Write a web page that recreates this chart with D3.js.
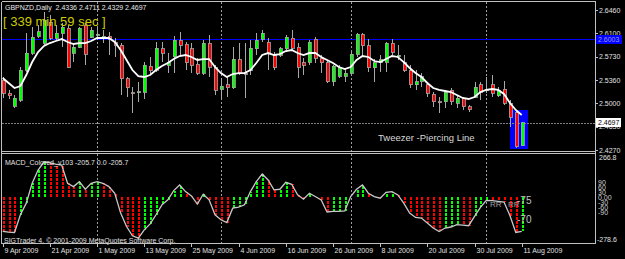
<!DOCTYPE html>
<html>
<head>
<meta charset="utf-8">
<script src="https://cdn.jsdelivr.net/npm/d3@7"></script>
<style>
  body { margin: 0; background: #000; }
  text { font-family: "Liberation Sans", Arial, sans-serif; }
</style>
</head>
<body>
<script>
// Width and Height
const w = 625;
const h = 259;

// Daily GBPNZD candles, bar 0 = 9 Apr 2009 ... bar 88 = 11 Aug 2009
const opens = [2.5365, 2.5161, 2.4958, 2.5052, 2.5521, 2.5787, 2.6053, 2.5943, 2.6272, 2.6022,
  2.6100, 2.6178, 2.5787, 2.5881, 2.6225, 2.6037, 2.6069, 2.6037, 2.6053, 2.5959,
  2.5912, 2.5381, 2.5169, 2.5177, 2.5177, 2.5584, 2.5521, 2.5850, 2.5599, 2.5725,
  2.5990, 2.5928, 2.5850, 2.5615, 2.5474, 2.5943, 2.5568, 2.5224, 2.5287, 2.5240,
  2.5693, 2.5474, 2.5506, 2.5850, 2.6006, 2.5959, 2.5756, 2.5756, 2.5850, 2.6022,
  2.5881, 2.5631, 2.5646, 2.6006, 2.5709, 2.5631, 2.5334, 2.5427, 2.5427, 2.5474,
  2.5771, 2.6084, 2.5897, 2.5553, 2.5631, 2.5646, 2.5943, 2.5725, 2.5646, 2.5506,
  2.5287, 2.5334, 2.5287, 2.5146, 2.5021, 2.5021, 2.5208, 2.5005, 2.5083, 2.4943,
  2.5099, 2.5287, 2.5208, 2.5287, 2.5115, 2.5224, 2.5005, 2.4864, 2.4336];
const highs = [2.5412, 2.5208, 2.5130, 2.5568, 2.6100, 2.6194, 2.6225, 2.6428, 2.6381, 2.6225,
  2.6256, 2.6225, 2.5943, 2.6194, 2.6256, 2.6194, 2.6178, 2.6147, 2.6116, 2.6022,
  2.5943, 2.5412, 2.5255, 2.5334, 2.5646, 2.5725, 2.5959, 2.5959, 2.5787, 2.6053,
  2.6116, 2.5959, 2.5943, 2.5709, 2.5990, 2.6069, 2.5599, 2.5396, 2.5412, 2.5881,
  2.5943, 2.5943, 2.5990, 2.6100, 2.6147, 2.6022, 2.5803, 2.5881, 2.6069, 2.6147,
  2.5943, 2.5709, 2.5990, 2.6037, 2.5756, 2.5678, 2.5599, 2.5599, 2.5553, 2.5803,
  2.6100, 2.6100, 2.6006, 2.5693, 2.5756, 2.5959, 2.6006, 2.5912, 2.5756, 2.5599,
  2.5521, 2.5474, 2.5318, 2.5177, 2.5099, 2.5208, 2.5240, 2.5130, 2.5099, 2.4974,
  2.5334, 2.5334, 2.5412, 2.5443, 2.5255, 2.5349, 2.5052, 2.4896, 2.4711];
const lows = [2.5083, 2.5068, 2.4927, 2.5021, 2.5490, 2.5756, 2.6022, 2.5912, 2.5990, 2.5990,
  2.5881, 2.5553, 2.5646, 2.5865, 2.5599, 2.6022, 2.5990, 2.5943, 2.5756, 2.5725,
  2.5130, 2.5099, 2.4849, 2.5021, 2.5068, 2.5443, 2.5490, 2.5646, 2.5474, 2.5474,
  2.5756, 2.5521, 2.5474, 2.5443, 2.5443, 2.5412, 2.5130, 2.5052, 2.5099, 2.5224,
  2.5443, 2.5083, 2.5443, 2.5756, 2.5959, 2.5521, 2.5521, 2.5725, 2.5803, 2.5834,
  2.5396, 2.5443, 2.5599, 2.5631, 2.5474, 2.5318, 2.5271, 2.5396, 2.5334, 2.5443,
  2.5725, 2.5740, 2.5490, 2.5334, 2.5490, 2.5490, 2.5756, 2.5678, 2.5490, 2.5240,
  2.5208, 2.5255, 2.5099, 2.4943, 2.4849, 2.4927, 2.4974, 2.4927, 2.4896, 2.4864,
  2.5083, 2.5052, 2.5161, 2.5099, 2.5099, 2.4974, 2.4630, 2.4301, 2.4329];
const closes = [2.5161, 2.5115, 2.5083, 2.5521, 2.5787, 2.6037, 2.6116, 2.6303, 2.6022, 2.6100,
  2.6194, 2.5568, 2.5881, 2.6178, 2.5771, 2.6147, 2.6084, 2.6053, 2.6006, 2.5912,
  2.5381, 2.5240, 2.5161, 2.5185, 2.5599, 2.5506, 2.5865, 2.5787, 2.5646, 2.5990,
  2.5912, 2.5631, 2.5599, 2.5474, 2.5943, 2.5568, 2.5208, 2.5271, 2.5240, 2.5693,
  2.5474, 2.5466, 2.5865, 2.5990, 2.6100, 2.5787, 2.5553, 2.5850, 2.6037, 2.5865,
  2.5568, 2.5599, 2.5959, 2.5709, 2.5631, 2.5334, 2.5584, 2.5553, 2.5474, 2.5771,
  2.6084, 2.5897, 2.5553, 2.5631, 2.5678, 2.5943, 2.5803, 2.5756, 2.5506, 2.5287,
  2.5334, 2.5412, 2.5161, 2.5021, 2.5013, 2.5177, 2.5021, 2.5083, 2.4943, 2.4896,
  2.5255, 2.5177, 2.5216, 2.5161, 2.5193, 2.5005, 2.4786, 2.4317, 2.4697];

// moving average drawn over the candles
const maValues = [2.5396, 2.5318, 2.5240, 2.5271, 2.5443, 2.5646, 2.5803, 2.5897, 2.5943, 2.5975,
  2.6006, 2.5959, 2.5928, 2.5943, 2.5943, 2.5975, 2.6022, 2.6022, 2.6022, 2.5959,
  2.5834, 2.5678, 2.5521, 2.5427, 2.5412, 2.5443, 2.5521, 2.5584, 2.5631, 2.5693,
  2.5740, 2.5756, 2.5725, 2.5678, 2.5693, 2.5693, 2.5568, 2.5474, 2.5412, 2.5459,
  2.5474, 2.5474, 2.5521, 2.5631, 2.5756, 2.5787, 2.5756, 2.5771, 2.5818, 2.5834,
  2.5787, 2.5756, 2.5787, 2.5787, 2.5725, 2.5678, 2.5631, 2.5568, 2.5537, 2.5568,
  2.5678, 2.5740, 2.5725, 2.5662, 2.5646, 2.5693, 2.5740, 2.5725, 2.5646, 2.5553,
  2.5474, 2.5412, 2.5318, 2.5240, 2.5209, 2.5193, 2.5177, 2.5130, 2.5084, 2.5068,
  2.5099, 2.5177, 2.5209, 2.5224, 2.5209, 2.5146, 2.5005, 2.4896, 2.4818];

// MACD_Colored values
const macdValues = [-205, -210, -212, -105, -35, 85, 165, 215, 209, 201,
  195, 85, 65, 95, 49, 85, 95, 85, 65, 25,
  -95, -176, -232, -246, -196, -160, -105, -45, -15, 41,
  75, 35, 9, -41, 19, -15, -105, -135, -152, -65,
  -59, -45, 35, 95, 141, 105, 45, 49, 91, 79,
  15, -11, 25, 5, -15, -88, -85, -84, -82, 5,
  49, 75, 25, 5, -5, 30, 35, 15, -35, -95,
  -121, -125, -155, -185, -206, -185, -179, -165, -167, -171,
  -115, -60, -18, -20, -24, -28, -110, -212, -205.7];

const dateLabels = ["9 Apr 2009", "21 Apr 2009", "1 May 2009", "13 May 2009", "25 May 2009", "4 Jun 2009",
  "16 Jun 2009", "26 Jun 2009", "8 Jul 2009", "20 Jul 2009", "30 Jul 2009", "11 Aug 2009"];
const dateBars = [0, 8, 16, 24, 32, 40, 48, 56, 64, 72, 80, 88];
const monthBars = [16, 37, 59, 82];

const priceTicks = [2.6460, 2.6100, 2.5730, 2.5360, 2.5000, 2.4630, 2.4270];
const macdRange = [-278.6, 266.8];
const macdLevels = [90, 60, 30, 0, -30, -60, -90];

const blueLevel = 2.6003;
// tweezer box: bars 86..89, price span
const boxBars = [86, 89];
const boxPrices = [2.4286, 2.4896];

const last = opens.length - 1;

// Create SVG
const svg = d3.select("body")
  .append("svg")
  .attr("width", w)
  .attr("height", h)
  .style("background", "#000")
  .attr("shape-rendering", "crispEdges");

const x = d3.scaleLinear().domain([0, last]).range([2.7, 521.7]);
const y = d3.scaleLinear().domain([2.4270, 2.6460]).range([150, 10]);
const ym = d3.scaleLinear().domain(macdRange).range([243.5, 153.2]);

const grey = "#c0c0c0";

// tweezer box (background object)
svg.append("rect")
  .attr("x", x(boxBars[0]))
  .attr("y", y(boxPrices[1]))
  .attr("width", x(boxBars[1]) - x(boxBars[0]))
  .attr("height", y(boxPrices[0]) - y(boxPrices[1]))
  .attr("fill", "#0000ff");

// month separators
svg.selectAll("line.sep")
  .data(monthBars)
  .enter()
  .append("line")
  .attr("x1", d => Math.round(x(d)) + 0.5)
  .attr("x2", d => Math.round(x(d)) + 0.5)
  .attr("y1", 2)
  .attr("y2", 243)
  .attr("stroke", "#a0a0a0")
  .attr("stroke-dasharray", "2,2");

// blue horizontal line
svg.append("line")
  .attr("x1", 2).attr("x2", 595)
  .attr("y1", Math.round(y(blueLevel)) + 0.5)
  .attr("y2", Math.round(y(blueLevel)) + 0.5)
  .attr("stroke", "#0000ff");

// bid line
svg.append("line")
  .attr("x1", 2).attr("x2", 595)
  .attr("y1", Math.round(y(closes[last])) + 0.5)
  .attr("y2", Math.round(y(closes[last])) + 0.5)
  .attr("stroke", "#808080")
  .attr("stroke-dasharray", "2,1");

// candles
const candles = svg.append("g");
opens.forEach(function(o, i) {
  let c = closes[i];
  let cx = Math.round(x(i)) + 0.5;
  candles.append("line")
    .attr("x1", cx).attr("x2", cx)
    .attr("y1", y(highs[i])).attr("y2", y(lows[i]))
    .attr("stroke", "#a8a8a8");
  let top = y(Math.max(o, c));
  let bh = Math.max(1, Math.abs(y(o) - y(c)));
  candles.append("rect")
    .attr("x", cx - 1.5)
    .attr("y", top)
    .attr("width", 3)
    .attr("height", bh)
    .attr("fill", c >= o ? "#00ff00" : "#ff0000")
    .attr("stroke", "#a8a8a8")
    .attr("stroke-width", 0.8);
});

// moving average
const maLine = d3.line()
  .x((d, i) => x(i))
  .y(d => y(d));

svg.append("path")
  .datum(maValues)
  .attr("d", maLine)
  .attr("fill", "none")
  .attr("stroke", "#ffffff")
  .attr("stroke-width", 1.8)
  .attr("shape-rendering", "auto");

// MACD histogram, coloured by direction
svg.selectAll("line.hist")
  .data(macdValues)
  .enter()
  .append("line")
  .attr("x1", (d, i) => Math.round(x(i)) + 1)
  .attr("x2", (d, i) => Math.round(x(i)) + 1)
  .attr("y1", ym(0))
  .attr("y2", d => ym(d))
  .attr("stroke", (d, i) => (i > 0 && d > macdValues[i - 1]) ? "#00ff00" : "#ff0000")
  .attr("stroke-width", 2)
  .attr("stroke-dasharray", "3,1");

const macdLine = d3.line()
  .x((d, i) => x(i))
  .y(d => ym(d));

svg.append("path")
  .datum(macdValues)
  .attr("d", macdLine)
  .attr("fill", "none")
  .attr("stroke", "#c8c8c8")
  .attr("stroke-width", 1.3)
  .attr("shape-rendering", "auto");

// frames
const frame = [[1.5, 1.5, 595.5, 1.5], [1.5, 151.5, 595.5, 151.5], [1.5, 153.5, 595.5, 153.5],
  [1.5, 243.5, 595.5, 243.5], [1.5, 1.5, 1.5, 243.5], [595.5, 1.5, 595.5, 243.5]];
svg.selectAll("line.frame")
  .data(frame)
  .enter()
  .append("line")
  .attr("x1", d => d[0]).attr("y1", d => d[1])
  .attr("x2", d => d[2]).attr("y2", d => d[3])
  .attr("stroke", grey);

// price axis
const priceAxis = svg.append("g");
priceTicks.forEach(function(v) {
  let py = Math.round(y(v)) + 0.5;
  priceAxis.append("line")
    .attr("x1", 595).attr("x2", 598)
    .attr("y1", py).attr("y2", py)
    .attr("stroke", grey);
  priceAxis.append("text")
    .attr("x", 599).attr("y", y(v) + 2.5)
    .attr("font-size", "7px")
    .attr("fill", "#e0e0e0")
    .text(v.toFixed(4));
});

// blue level label
svg.append("rect")
  .attr("x", 596).attr("y", y(blueLevel) - 4.5)
  .attr("width", 26).attr("height", 9)
  .attr("fill", "#0000ff");
svg.append("text")
  .attr("x", 598).attr("y", y(blueLevel) + 2.5)
  .attr("font-size", "7px")
  .attr("fill", "#9a9aff")
  .text(blueLevel.toFixed(4));

// last price label
svg.append("rect")
  .attr("x", 596).attr("y", y(closes[last]) - 4.5)
  .attr("width", 25).attr("height", 9)
  .attr("fill", "#ffffff");
svg.append("text")
  .attr("x", 598).attr("y", y(closes[last]) + 2.5)
  .attr("font-size", "7px")
  .attr("fill", "#000")
  .text(closes[last].toFixed(4));

// MACD axis
const macdAxis = svg.append("g");
macdAxis.append("text")
  .attr("x", 599).attr("y", 159.5)
  .attr("font-size", "7px").attr("fill", "#e0e0e0")
  .text(macdRange[1].toFixed(1));
macdAxis.append("text")
  .attr("x", 597).attr("y", 241.5)
  .attr("font-size", "7px").attr("fill", "#e0e0e0")
  .text(macdRange[0].toFixed(1));
macdLevels.forEach(function(v) {
  macdAxis.append("text")
    .attr("x", 598).attr("y", ym(v) + 2.5)
    .attr("font-size", "7px").attr("fill", "#d0d0d0")
    .text(v === 0 ? "0.00" : v);
});

// date axis
const dateAxis = svg.append("g");
dateBars.forEach(function(b, i) {
  let tx = Math.round(x(b)) + 0.5;
  dateAxis.append("line")
    .attr("x1", tx).attr("x2", tx)
    .attr("y1", 243).attr("y2", 247)
    .attr("stroke", grey);
  dateAxis.append("text")
    .attr("x", tx + 1).attr("y", 253)
    .attr("font-size", "7px")
    .attr("fill", "#e0e0e0")
    .text(dateLabels[i]);
});

// texts
svg.append("text")
  .attr("x", 5).attr("y", 9.5)
  .attr("font-size", "7px").attr("fill", "#e8e8e8")
  .attr("xml:space", "preserve")
  .style("white-space", "pre")
  .text("GBPNZD,Daily  " + [opens[last], highs[last], lows[last], closes[last]].map(d => d.toFixed(4)).join(" "));

svg.append("text")
  .attr("x", 3).attr("y", 26)
  .attr("font-size", "13px").attr("fill", "#cccc00")
  .text("[ 339 min 59 sec ]");

svg.append("text")
  .attr("x", 378).attr("y", 140.7)
  .attr("font-size", "9.5px").attr("fill", "#d8d8d8")
  .text("Tweezer -Piercing Line");

svg.append("text")
  .attr("x", 5).attr("y", 165)
  .attr("font-size", "7px").attr("fill", "#e0e0e0")
  .text("MACD_Colored_v103 " + macdValues[last].toFixed(1) + " 0.0 " + macdValues[last].toFixed(1));

svg.append("text")
  .attr("x", 4).attr("y", 242.5)
  .attr("font-size", "7px").attr("fill", "#e0e0e0")
  .text("SIGTrader 4, © 2001-2009 MetaQuotes Software Corp.");

// leftover object labels in the MACD window
svg.append("text")
  .attr("x", 490).attr("y", 207)
  .attr("font-size", "8px").attr("fill", "#a0a0a0")
  .text("RR");
svg.append("text")
  .attr("x", 508).attr("y", 207)
  .attr("font-size", "8px").attr("fill", "#a0a0a0")
  .text("RR");
svg.append("text")
  .attr("x", 517).attr("y", 204)
  .attr("font-size", "10px").attr("fill", "#c0c0c0")
  .text("-75");
svg.append("text")
  .attr("x", 517).attr("y", 223)
  .attr("font-size", "10px").attr("fill", "#c0c0c0")
  .text("-70");
</script>
</body>
</html>
